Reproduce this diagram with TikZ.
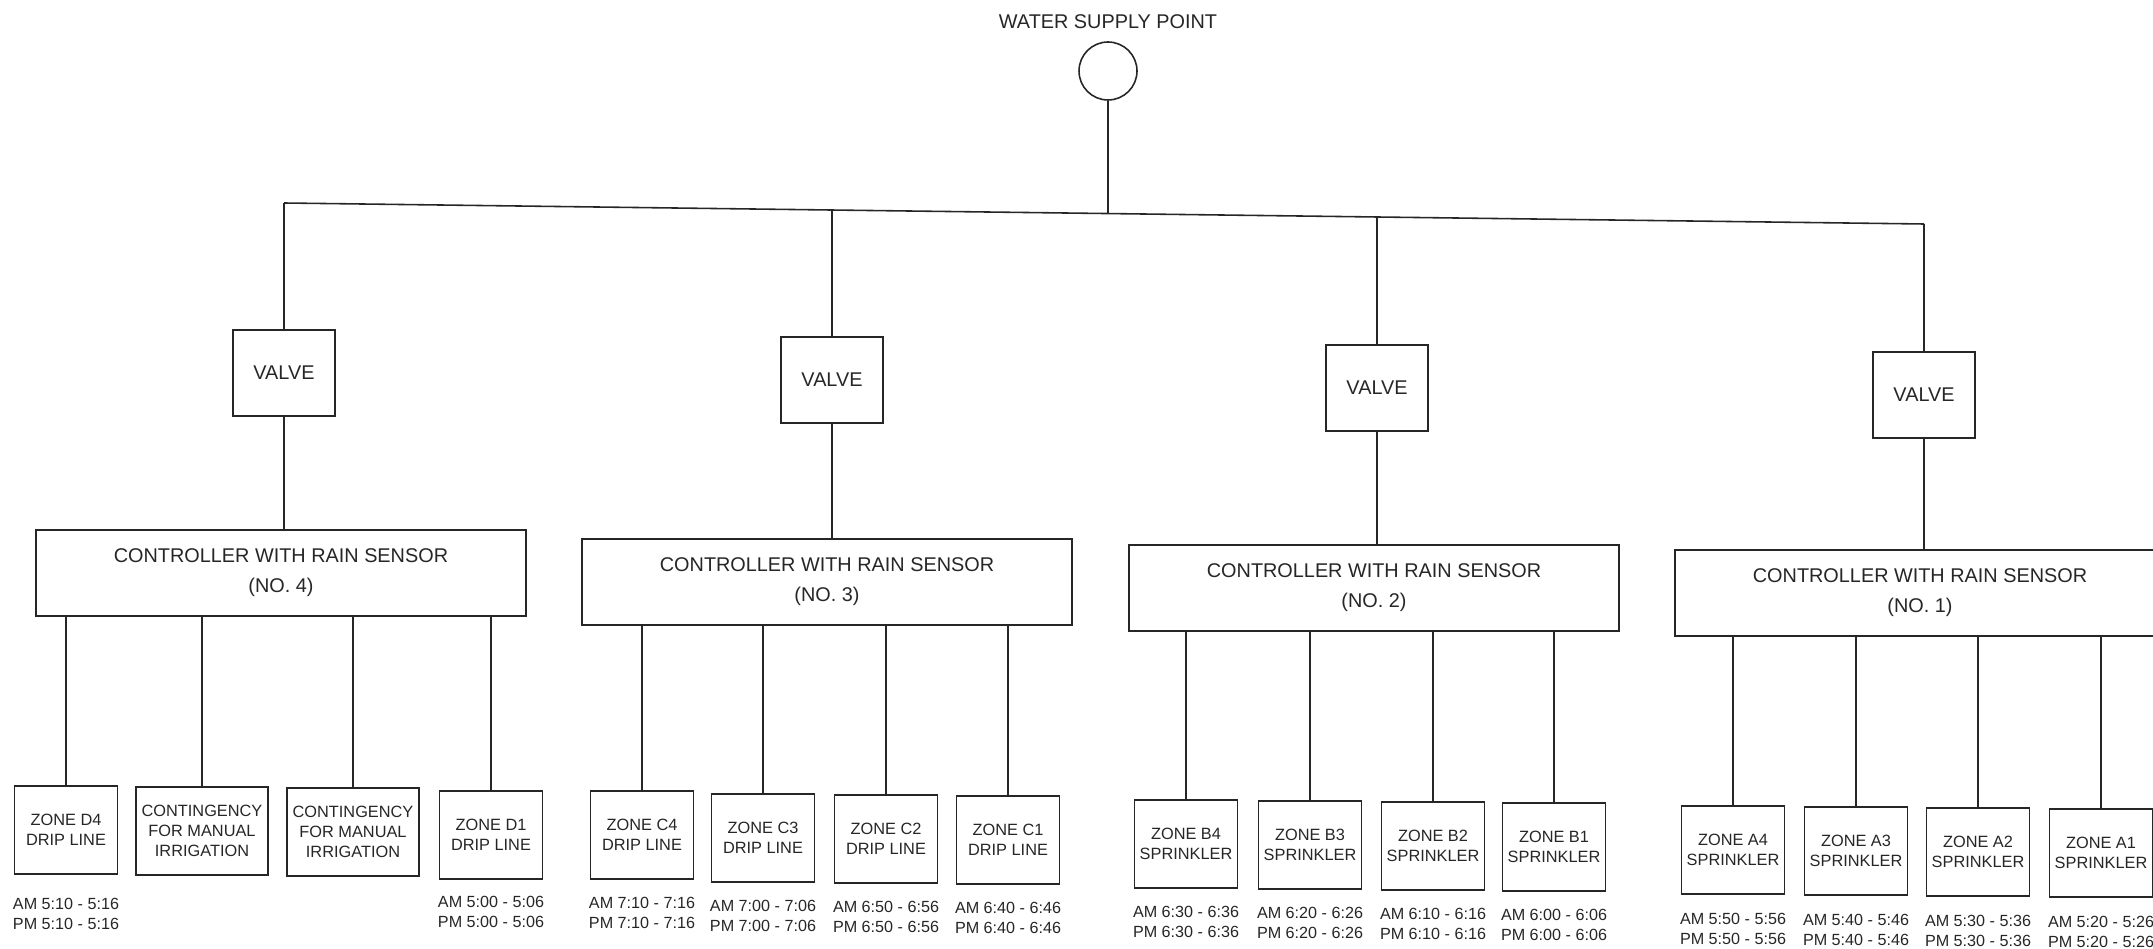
\documentclass[tikz,border=0pt]{standalone}
\usepackage{fontspec}
\setmainfont{Liberation Sans}
\begin{document}
\begin{tikzpicture}[x={(0.02cm,0)},y={(0,-0.02cm)},
  conn/.style={draw=black!85,line width=0.9pt},
  valvebox/.style={draw=black!85,line width=0.9pt,minimum width=2.04cm,minimum height=1.72cm,inner sep=0pt,font=\fontsize{11.3}{16}\selectfont,text=black!85},
  ctrlbox/.style={draw=black!85,line width=0.9pt,minimum width=9.8cm,minimum height=1.72cm,inner sep=0pt,align=center,font=\fontsize{11.3}{17}\selectfont,text=black!85},
  zonebox/.style={draw=black!85,line width=0.9pt,minimum width=2.06cm,minimum height=1.76cm,inner sep=0pt,align=center,font=\fontsize{9.3}{11.4}\selectfont,text=black!85},
  contbox/.style={zonebox,minimum width=2.64cm},
  timetext/.style={inner sep=0pt,align=center,anchor=north,font=\fontsize{9.2}{11.6}\selectfont,text=black!85},
  srcnode/.style={draw=black!85,line width=0.9pt,circle,minimum size=1.16cm,inner sep=0pt}
]
\useasboundingbox (0,0) rectangle (2153,949);
\clip (0,0) rectangle (2153,949);

% source
\node[font=\fontsize{11.3}{14}\selectfont,text=black!85] (title) at (1108,22) {WATER SUPPLY POINT};
\node[srcnode] (src) at (1108,71) {};

% bus coordinates
\coordinate (b4) at (284,203);
\coordinate (b3) at (832,210);
\coordinate (b2) at (1377,217);
\coordinate (b1) at (1924,224);
\coordinate (bs) at (1108,213.5);

% valves
\node[valvebox] (v4) at (284,373) {VALVE};
\node[valvebox] (v3) at (832,380) {VALVE};
\node[valvebox] (v2) at (1377,388) {VALVE};
\node[valvebox] (v1) at (1924,395) {VALVE};

% controllers
\node[ctrlbox] (c4) at (281,573) {CONTROLLER WITH RAIN SENSOR\\(NO. 4)};
\node[ctrlbox] (c3) at (827,582) {CONTROLLER WITH RAIN SENSOR\\(NO. 3)};
\node[ctrlbox] (c2) at (1374,588) {CONTROLLER WITH RAIN SENSOR\\(NO. 2)};
\node[ctrlbox] (c1) at (1920,593) {CONTROLLER WITH RAIN SENSOR\\(NO. 1)};

% zones D
\node[zonebox] (zD4) at (66,830) {ZONE D4\\DRIP LINE};
\node[contbox] (zM1) at (202,831) {CONTINGENCY\\FOR MANUAL\\IRRIGATION};
\node[contbox] (zM2) at (353,832) {CONTINGENCY\\FOR MANUAL\\IRRIGATION};
\node[zonebox] (zD1) at (491,835) {ZONE D1\\DRIP LINE};
% zones C
\node[zonebox] (zC4) at (642,835) {ZONE C4\\DRIP LINE};
\node[zonebox] (zC3) at (763,838) {ZONE C3\\DRIP LINE};
\node[zonebox] (zC2) at (886,839) {ZONE C2\\DRIP LINE};
\node[zonebox] (zC1) at (1008,840) {ZONE C1\\DRIP LINE};
% zones B
\node[zonebox] (zB4) at (1186,844) {ZONE B4\\SPRINKLER};
\node[zonebox] (zB3) at (1310,845) {ZONE B3\\SPRINKLER};
\node[zonebox] (zB2) at (1433,846) {ZONE B2\\SPRINKLER};
\node[zonebox] (zB1) at (1554,847) {ZONE B1\\SPRINKLER};
% zones A
\node[zonebox] (zA4) at (1733,850) {ZONE A4\\SPRINKLER};
\node[zonebox] (zA3) at (1856,851) {ZONE A3\\SPRINKLER};
\node[zonebox] (zA2) at (1978,852) {ZONE A2\\SPRINKLER};
\node[zonebox] (zA1) at (2101,853) {ZONE A1\\SPRINKLER};

% times
\node[timetext] (tD4) at ([yshift=-0.46cm]zD4.south) {AM 5:10 - 5:16\\PM 5:10 - 5:16};
\node[timetext] (tD1) at ([yshift=-0.32cm]zD1.south) {AM 5:00 - 5:06\\PM 5:00 - 5:06};
\node[timetext] (tC4) at ([yshift=-0.34cm]zC4.south) {AM 7:10 - 7:16\\PM 7:10 - 7:16};
\node[timetext] (tC3) at ([yshift=-0.34cm]zC3.south) {AM 7:00 - 7:06\\PM 7:00 - 7:06};
\node[timetext] (tC2) at ([yshift=-0.34cm]zC2.south) {AM 6:50 - 6:56\\PM 6:50 - 6:56};
\node[timetext] (tC1) at ([yshift=-0.34cm]zC1.south) {AM 6:40 - 6:46\\PM 6:40 - 6:46};
\node[timetext] (tB4) at ([yshift=-0.34cm]zB4.south) {AM 6:30 - 6:36\\PM 6:30 - 6:36};
\node[timetext] (tB3) at ([yshift=-0.34cm]zB3.south) {AM 6:20 - 6:26\\PM 6:20 - 6:26};
\node[timetext] (tB2) at ([yshift=-0.34cm]zB2.south) {AM 6:10 - 6:16\\PM 6:10 - 6:16};
\node[timetext] (tB1) at ([yshift=-0.34cm]zB1.south) {AM 6:00 - 6:06\\PM 6:00 - 6:06};
\node[timetext] (tA4) at ([yshift=-0.36cm]zA4.south) {AM 5:50 - 5:56\\PM 5:50 - 5:56};
\node[timetext] (tA3) at ([yshift=-0.36cm]zA3.south) {AM 5:40 - 5:46\\PM 5:40 - 5:46};
\node[timetext] (tA2) at ([yshift=-0.36cm]zA2.south) {AM 5:30 - 5:36\\PM 5:30 - 5:36};
\node[timetext] (tA1) at ([yshift=-0.36cm]zA1.south) {AM 5:20 - 5:26\\PM 5:20 - 5:26};

% connectors
\draw[conn] (src.south) -- (bs);
\draw[conn] (b4) -- (b1);
\foreach \i in {1,2,3,4} {
  \draw[conn] (b\i) -- (v\i.north);
  \draw[conn] (v\i.south) -- (v\i.south |- c\i.north);
}
\foreach \z in {zD4,zM1,zM2,zD1} \draw[conn] (c4.south -| \z.north) -- (\z.north);
\foreach \z in {zC4,zC3,zC2,zC1} \draw[conn] (c3.south -| \z.north) -- (\z.north);
\foreach \z in {zB4,zB3,zB2,zB1} \draw[conn] (c2.south -| \z.north) -- (\z.north);
\foreach \z in {zA4,zA3,zA2,zA1} \draw[conn] (c1.south -| \z.north) -- (\z.north);
\end{tikzpicture}
\end{document}
